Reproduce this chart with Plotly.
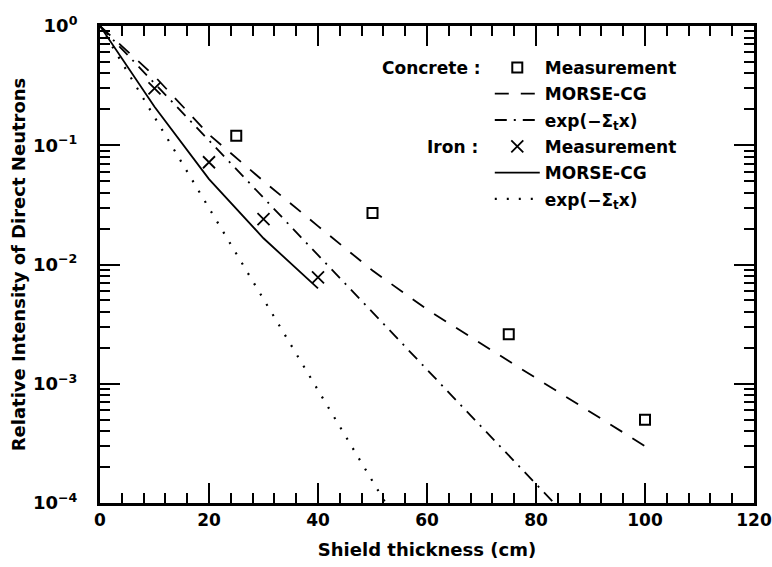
import plotly.graph_objects as go

# ---- data ----
conc_meas_x = [25, 50, 75, 100]
conc_meas_y = [0.12, 0.027, 0.0026, 0.0005]

conc_morse_x = [0, 10, 20, 30, 40, 50, 60, 75, 100]
conc_morse_y = [1.0, 0.38, 0.123, 0.050, 0.021, 0.0089, 0.0042, 0.00155, 0.0003]

conc_exp_x = [0, 83.3]
conc_exp_y = [1.0, 1.0e-4]

iron_meas_x = [10, 20, 30, 40]
iron_meas_y = [0.30, 0.072, 0.024, 0.0078]

iron_morse_x = [0, 10, 20, 30, 40]
iron_morse_y = [1.0, 0.21, 0.052, 0.0166, 0.0063]

iron_exp_x = [0, 52.4]
iron_exp_y = [1.0, 1.0e-4]

x_tickvals = [0, 20, 40, 60, 80, 100, 120]
y_tickvals = [1e-4, 1e-3, 1e-2, 1e-1, 1e0]
y_ticktext = ["10<sup>\u22124</sup>", "10<sup>\u22123</sup>", "10<sup>\u22122</sup>",
              "10<sup>\u22121</sup>", "10<sup>0</sup>"]

FONT = "DejaVu Sans"


def f(size):
    return dict(family=FONT, size=size, color="black", weight="bold")


fig = go.Figure()

fig.add_trace(go.Scatter(x=conc_meas_x, y=conc_meas_y, mode="markers", name="Measurement",
                         legendgroup="a",
                         marker=dict(symbol="square-open", size=10, color="black",
                                     line=dict(width=2, color="black"))))
fig.add_trace(go.Scatter(x=conc_morse_x, y=conc_morse_y, mode="lines", name="MORSE-CG",
                         legendgroup="b",
                         line=dict(color="black", width=1.8, dash="14px,12px")))
fig.add_trace(go.Scatter(x=conc_exp_x, y=conc_exp_y, mode="lines",
                         name="exp(\u2212\u03a3<sub>t</sub>x)", legendgroup="c",
                         line=dict(color="black", width=1.8, dash="12px,7px,2px,7px")))
fig.add_trace(go.Scatter(x=iron_meas_x, y=iron_meas_y, mode="markers", name="Measurement",
                         legendgroup="d",
                         marker=dict(symbol="x-thin-open", size=12, color="black",
                                     line=dict(width=1.8, color="black"))))
fig.add_trace(go.Scatter(x=iron_morse_x, y=iron_morse_y, mode="lines", name="MORSE-CG",
                         legendgroup="e",
                         line=dict(color="black", width=1.8)))
fig.add_trace(go.Scatter(x=iron_exp_x, y=iron_exp_y, mode="lines",
                         name="exp(\u2212\u03a3<sub>t</sub>x)", legendgroup="f",
                         line=dict(color="black", width=2.2, dash="2px,10px")))

y_minor = [m * 10.0 ** k for k in range(-4, 0) for m in range(2, 10)]

fig.update_layout(
    width=772, height=567,
    margin=dict(l=100, r=18, t=26, b=64, autoexpand=False),
    paper_bgcolor="white", plot_bgcolor="white",
    font=f(16),
    showlegend=True,
    legend=dict(x=0.596, y=0.950, xanchor="left", yanchor="top",
                bgcolor="rgba(0,0,0,0)", font=f(17),
                tracegroupgap=1.2, itemwidth=45, traceorder="grouped"),
    annotations=[
        dict(text="Concrete :", xref="paper", yref="paper", x=0.585, y=0.912,
             xanchor="right", yanchor="middle", showarrow=False, font=f(17)),
        dict(text="Iron :", xref="paper", yref="paper", x=0.581, y=0.746,
             xanchor="right", yanchor="middle", showarrow=False, font=f(17)),
    ],
)

fig.update_xaxes(
    range=[0, 120], tickmode="array", tickvals=x_tickvals,
    ticks="inside", ticklen=20, tickwidth=2, tickcolor="black",
    minor=dict(ticks="inside", ticklen=10, tickwidth=2, tickcolor="black", dtick=4, tick0=0,
               showgrid=False),
    showline=True, linewidth=3, linecolor="black", mirror="ticks",
    showgrid=False, zeroline=False, automargin=False,
    tickfont=f(17),
    title=dict(text="Shield thickness (cm)", standoff=14, font=f(18)),
)
fig.update_yaxes(
    type="log", range=[-4, 0], tickmode="array", tickvals=y_tickvals, ticktext=y_ticktext,
    ticks="inside", ticklen=20, tickwidth=2, tickcolor="black",
    minor=dict(ticks="inside", ticklen=10, tickwidth=2, tickcolor="black",
               tickmode="array", tickvals=y_minor, showgrid=False),
    showline=True, linewidth=3, linecolor="black", mirror="ticks",
    showgrid=False, zeroline=False, automargin=False,
    tickfont=f(18),
    ticklabelstandoff=16,
    title=dict(text="Relative Intensity of Direct Neutrons", standoff=3, font=f(18)),
)

fig.write_html("out.html", config={"displayModeBar": False},
               post_script="document.body.style.margin='0';")
